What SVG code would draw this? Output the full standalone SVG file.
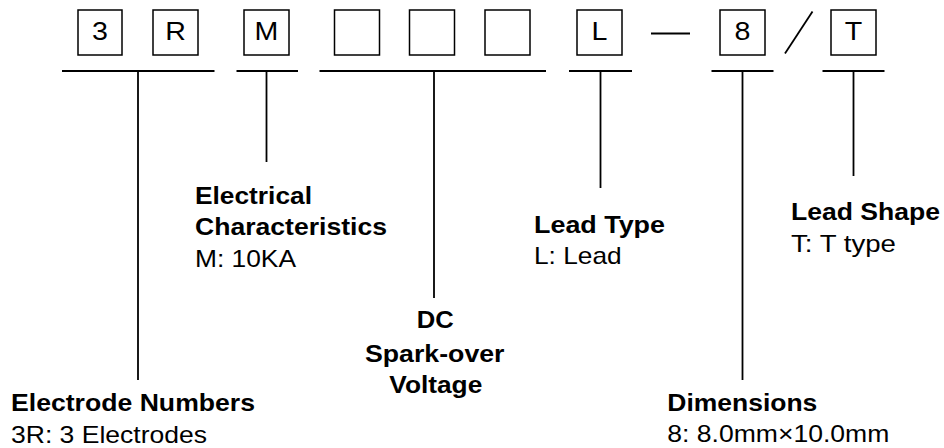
<svg xmlns="http://www.w3.org/2000/svg" width="944" height="448" viewBox="0 0 944 448">
<style>
.box{fill:#fff;stroke:#000;stroke-width:1.5}
.ln{stroke:#000;stroke-width:1.8;fill:none}
.ch{font-family:"Liberation Sans",Arial,sans-serif;font-size:26px;fill:#000;text-anchor:middle}
.b{font-family:"Liberation Sans",Arial,sans-serif;font-size:24.5px;font-weight:bold;fill:#000}
.r{font-family:"Liberation Sans",Arial,sans-serif;font-size:24px;fill:#000}
</style>
<rect width="944" height="448" fill="#fff"/>
<g id="code">
<g id="box-3"><rect class="box" x="78" y="10" width="44" height="45"/><text class="ch" transform="translate(100,39.5) scale(1.1,1)">3</text></g>
<g id="box-R"><rect class="box" x="153" y="10" width="45" height="45"/><text class="ch" transform="translate(175.5,39.5) scale(1.1,1)">R</text></g>
<g id="box-M"><rect class="box" x="244" y="10" width="45" height="45"/><text class="ch" transform="translate(266.5,39.5) scale(1.1,1)">M</text></g>
<g id="box-e1"><rect class="box" x="334.5" y="10" width="45" height="45"/></g>
<g id="box-e2"><rect class="box" x="409.5" y="10" width="45" height="45"/></g>
<g id="box-e3"><rect class="box" x="485" y="10" width="45" height="45"/></g>
<g id="box-L"><rect class="box" x="577" y="10" width="45" height="45"/><text class="ch" transform="translate(599.5,39.5) scale(1.1,1)">L</text></g>
<g id="box-8"><rect class="box" x="720" y="10" width="45" height="45"/><text class="ch" transform="translate(742.5,39.5) scale(1.1,1)">8</text></g>
<g id="box-T"><rect class="box" x="831" y="10" width="45" height="45"/><text class="ch" transform="translate(853.5,39.5) scale(1.1,1)">T</text></g>
<line class="ln" x1="651" y1="33.5" x2="690" y2="33.5"/>
<line class="ln" x1="785" y1="53.5" x2="812.5" y2="11.5"/>
</g>
<g id="connectors">
<line class="ln" x1="62" y1="71" x2="214.5" y2="71"/><line class="ln" x1="138" y1="71" x2="138" y2="380"/>
<line class="ln" x1="236.5" y1="71" x2="298" y2="71"/><line class="ln" x1="266.5" y1="71" x2="266.5" y2="162"/>
<line class="ln" x1="319.5" y1="71" x2="546" y2="71"/><line class="ln" x1="434" y1="71" x2="434" y2="298"/>
<line class="ln" x1="569" y1="71" x2="632" y2="71"/><line class="ln" x1="600.5" y1="71" x2="600.5" y2="188"/>
<line class="ln" x1="711.5" y1="71" x2="773.5" y2="71"/><line class="ln" x1="742.5" y1="71" x2="742.5" y2="380"/>
<line class="ln" x1="822.5" y1="71" x2="884.5" y2="71"/><line class="ln" x1="853.5" y1="71" x2="853.5" y2="176"/>
</g>
<g id="label-electrode">
<text class="b" x="11" y="410.5" textLength="244" lengthAdjust="spacingAndGlyphs">Electrode Numbers</text>
<text class="r" x="11" y="442.5" textLength="196" lengthAdjust="spacingAndGlyphs">3R: 3 Electrodes</text>
</g>
<g id="label-electrical">
<text class="b" x="195" y="203.5" textLength="117" lengthAdjust="spacingAndGlyphs">Electrical</text>
<text class="b" x="195" y="235" textLength="192" lengthAdjust="spacingAndGlyphs">Characteristics</text>
<text class="r" x="195" y="267" textLength="101" lengthAdjust="spacingAndGlyphs">M: 10KA</text>
</g>
<g id="label-dc">
<text class="b" x="416.7" y="328.3" textLength="37" lengthAdjust="spacingAndGlyphs">DC</text>
<text class="b" x="365" y="361.7" textLength="139.5" lengthAdjust="spacingAndGlyphs">Spark-over</text>
<text class="b" x="389.3" y="392.5" textLength="93" lengthAdjust="spacingAndGlyphs">Voltage</text>
</g>
<g id="label-leadtype">
<text class="b" x="534" y="232.7" textLength="131" lengthAdjust="spacingAndGlyphs">Lead Type</text>
<text class="r" x="534" y="264.3" textLength="87.7" lengthAdjust="spacingAndGlyphs">L: Lead</text>
</g>
<g id="label-dimensions">
<text class="b" x="667.3" y="410.5" textLength="150" lengthAdjust="spacingAndGlyphs">Dimensions</text>
<text class="r" x="667.3" y="441.7" textLength="222" lengthAdjust="spacingAndGlyphs">8: 8.0mm×10.0mm</text>
</g>
<g id="label-leadshape">
<text class="b" x="791" y="220" textLength="149" lengthAdjust="spacingAndGlyphs">Lead Shape</text>
<text class="r" x="791" y="251.7" textLength="105" lengthAdjust="spacingAndGlyphs">T: T type</text>
</g>
</svg>
